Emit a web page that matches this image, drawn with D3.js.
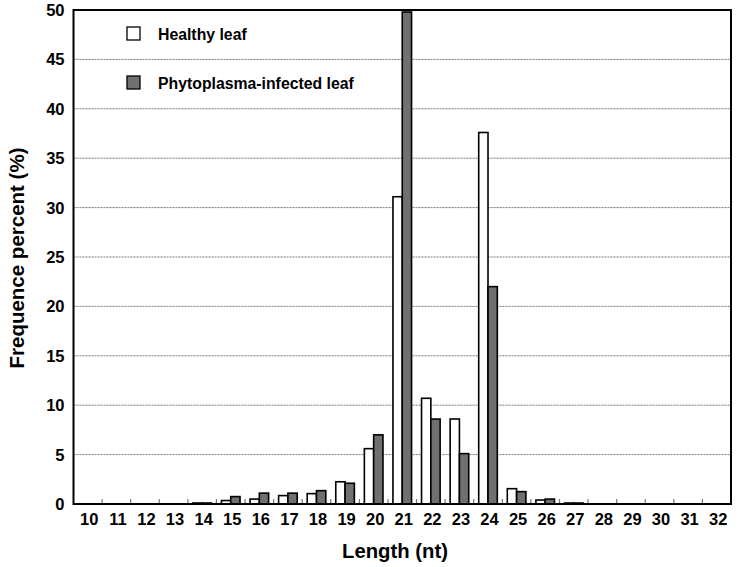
<!DOCTYPE html>
<html><head><meta charset="utf-8">
<script src="https://cdn.jsdelivr.net/npm/d3@7"></script>
<style>body{margin:0;background:#fff}svg{display:block}text{font-family:"Liberation Sans",Arial,sans-serif;font-weight:bold;fill:#000}</style>
</head><body><svg id="c" width="738" height="567"></svg>
<script>
const lengths = ["10","11","12","13","14","15","16","17","18","19","20","21","22","23","24","25","26","27","28","29","30","31","32"];
const healthy  = [0,0,0,0,0.1,0.35,0.5,0.85,1.05,2.25,5.6,31.1,10.7,8.6,37.6,1.55,0.4,0.1,0,0,0,0,0];
const infected = [0,0,0,0,0.1,0.75,1.1,1.1,1.35,2.1,7.0,49.8,8.6,5.1,22.0,1.25,0.5,0.1,0,0,0,0,0];
const seriesNames = ["Healthy leaf","Phytoplasma-infected leaf"];
const yTicks = [0,5,10,15,20,25,30,35,40,45,50];

const svg = d3.select("#c");
const L=73.5, R=731, T=10, B=504;
const x = d3.scaleBand().domain(lengths).range([L,R]);
const y = d3.scaleLinear().domain([0,50]).range([B,T]);
const colors = ["#ffffff","#707070"];
const bw = 9.3;

// gridlines
svg.append("g").selectAll("line").data(yTicks.filter(d=>d>0&&d<50)).join("line")
  .attr("x1",L).attr("x2",R).attr("y1",d=>y(d)).attr("y2",d=>y(d))
  .attr("stroke","#777").attr("stroke-width",1).attr("stroke-dasharray","2,1");

// bars
const data = lengths.map((l,i)=>({l, v:[healthy[i],infected[i]]}));
const g = svg.append("g");
data.forEach(d=>{
  d.v.forEach((v,k)=>{
    if(v<=0) return;
    const cx = x(d.l)+x.bandwidth()/2;
    const x0 = cx - bw + k*bw;
    g.append("rect").attr("x",x0).attr("y",y(v)).attr("width",bw).attr("height",Math.max(0,y(0)-y(v)))
      .attr("fill",colors[k]).attr("stroke","#000").attr("stroke-width",1.6);
  });
});

// x ticks at band boundaries
svg.append("g").selectAll("line").data(lengths.slice(1)).join("line")
  .attr("x1",d=>x(d)).attr("x2",d=>x(d)).attr("y1",B).attr("y2",B-5)
  .attr("stroke","#777").attr("stroke-width",1.2);

// frame
svg.append("rect").attr("x",L).attr("y",T).attr("width",R-L).attr("height",B-T)
  .attr("fill","none").attr("stroke","#000").attr("stroke-width",2);

// axis labels
svg.append("g").selectAll("text").data(lengths).join("text")
  .attr("x",d=>x(d)+x.bandwidth()/2+1.5).attr("y",525).attr("text-anchor","middle")
  .attr("font-size",16.5).text(d=>d);
svg.append("g").selectAll("text").data(yTicks).join("text")
  .attr("x",64.5).attr("y",d=>y(d)+6).attr("text-anchor","end")
  .attr("font-size",16.5).text(d=>d);

svg.append("text").attr("x",395).attr("y",558).attr("text-anchor","middle").attr("font-size",20.3).text("Length (nt)");
svg.append("text").attr("transform","translate(24,258) rotate(-90)").attr("text-anchor","middle").attr("font-size",20.5).text("Frequence percent (%)");

// legend
const leg = svg.append("g");
seriesNames.forEach((n,k)=>{
  const yy = 27 + k*49;
  leg.append("rect").attr("x",127).attr("y",yy).attr("width",13).attr("height",13)
    .attr("fill",colors[k]).attr("stroke","#000").attr("stroke-width",1.3);
  leg.append("text").attr("x",158).attr("y",yy+12.5).attr("font-size",15.8).text(n);
});
</script></body></html>
